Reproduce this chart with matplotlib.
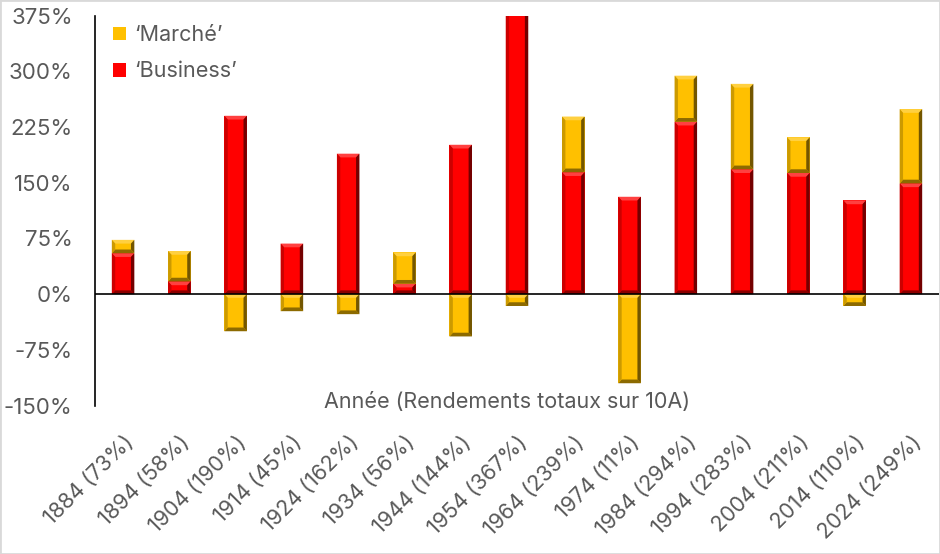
import numpy as np
import matplotlib.pyplot as plt
from matplotlib.patches import Polygon
from matplotlib.ticker import FuncFormatter

plt.rcParams['font.family'] = ['Inter', 'DejaVu Sans']

# data
years = ['1884', '1894', '1904', '1914', '1924', '1934', '1944', '1954',
         '1964', '1974', '1984', '1994', '2004', '2014', '2024']
totals = [73, 58, 190, 45, 162, 56, 144, 367, 239, 11, 294, 283, 211, 110, 249]
business = [55, 17, 240, 68, 189, 14, 201, 383, 164, 131, 232, 168, 163, 126, 149]
marche = [18, 41, -50, -23, -27, 42, -57, -16, 75, -120, 62, 115, 48, -16, 100]

labels = [f'{y} ({t}%)' for y, t in zip(years, totals)]
grey = '#595959'


def shade(c, f):
    c = np.array(plt.matplotlib.colors.to_rgb(c))
    if f < 1:
        return tuple(c * f)
    return tuple(c + (1 - c) * (f - 1))


def bevel(ax, bars, color, bx=0.06, by=5.0):
    # simple bevel look on top of each bar
    for p in bars:
        x0, w = p.get_x(), p.get_width()
        y0, h = p.get_y(), p.get_height()
        if h == 0:
            continue
        yb, yt = min(y0, y0 + h), max(y0, y0 + h)
        x1 = x0 + w
        d = min(by, (yt - yb) / 2)
        parts = [
            ([(x0, yt), (x1, yt), (x1 - bx, yt - d), (x0 + bx, yt - d)], shade(color, 1.25)),
            ([(x0, yb), (x1, yb), (x1 - bx, yb + d), (x0 + bx, yb + d)], shade(color, 0.55)),
            ([(x0, yb), (x0, yt), (x0 + bx, yt - d), (x0 + bx, yb + d)], shade(color, 0.8)),
            ([(x1, yb), (x1, yt), (x1 - bx, yt - d), (x1 - bx, yb + d)], shade(color, 0.45)),
        ]
        for pts, c in parts:
            ax.add_patch(Polygon(pts, closed=True, facecolor=c, edgecolor='none',
                                 zorder=p.get_zorder() + 0.1, clip_on=True))


fig = plt.figure(figsize=(9.4, 5.54), dpi=100)
ax = fig.add_axes([0.101, 0.268, 0.898, 0.704])

x = np.arange(len(years))
bus = np.array(business)
mar = np.array(marche)
# Excel-like stacking: positives on positives, negatives from zero
base = np.where(mar >= 0, np.maximum(bus, 0), 0)

red = '#ff0000'
gold = '#ffc000'
b1 = ax.bar(x, bus, width=0.4, color=red, zorder=2, label='‘Business’')
b2 = ax.bar(x, mar, width=0.4, bottom=base, color=gold, zorder=2, label='‘Marché’')
bevel(ax, b1, red)
bevel(ax, b2, gold)

ax.axhline(0, color='black', linewidth=1.2, zorder=3)

ax.set_xlim(-0.5, len(years) - 0.5)
ax.set_ylim(-150, 375)
ax.set_yticks(np.arange(-150, 376, 75))
ax.yaxis.set_major_formatter(FuncFormatter(lambda v, _: f'{v:.0f}%'))
ax.set_xticks(x)
ax.set_xticklabels(labels, rotation=45, ha='right', rotation_mode='anchor')

for s in ['top', 'right', 'bottom']:
    ax.spines[s].set_visible(False)
ax.spines['left'].set_color('black')
ax.spines['left'].set_linewidth(1.2)
ax.tick_params(axis='y', length=0, pad=16, labelsize=16, labelcolor=grey)
ax.tick_params(axis='x', length=0, pad=19, labelsize=15.5, labelcolor=grey)

fig.text(0.539, 0.274, 'Année (Rendements totaux sur 10A)', ha='center', va='center',
         fontsize=15.5, color=grey)

handles = [b2, b1]
leg = ax.legend(handles, [h.get_label() for h in handles], loc='upper left',
                bbox_to_anchor=(-0.002, 1.025), frameon=False, fontsize=15.5,
                handlelength=0.6, handleheight=0.6, handletextpad=0.4,
                labelspacing=0.75, labelcolor=grey)

fig.patches.append(plt.Rectangle((0, 0), 1, 1, transform=fig.transFigure,
                                 fill=False, edgecolor='#d9d9d9', linewidth=2))

fig.savefig('out.png', dpi=100)
